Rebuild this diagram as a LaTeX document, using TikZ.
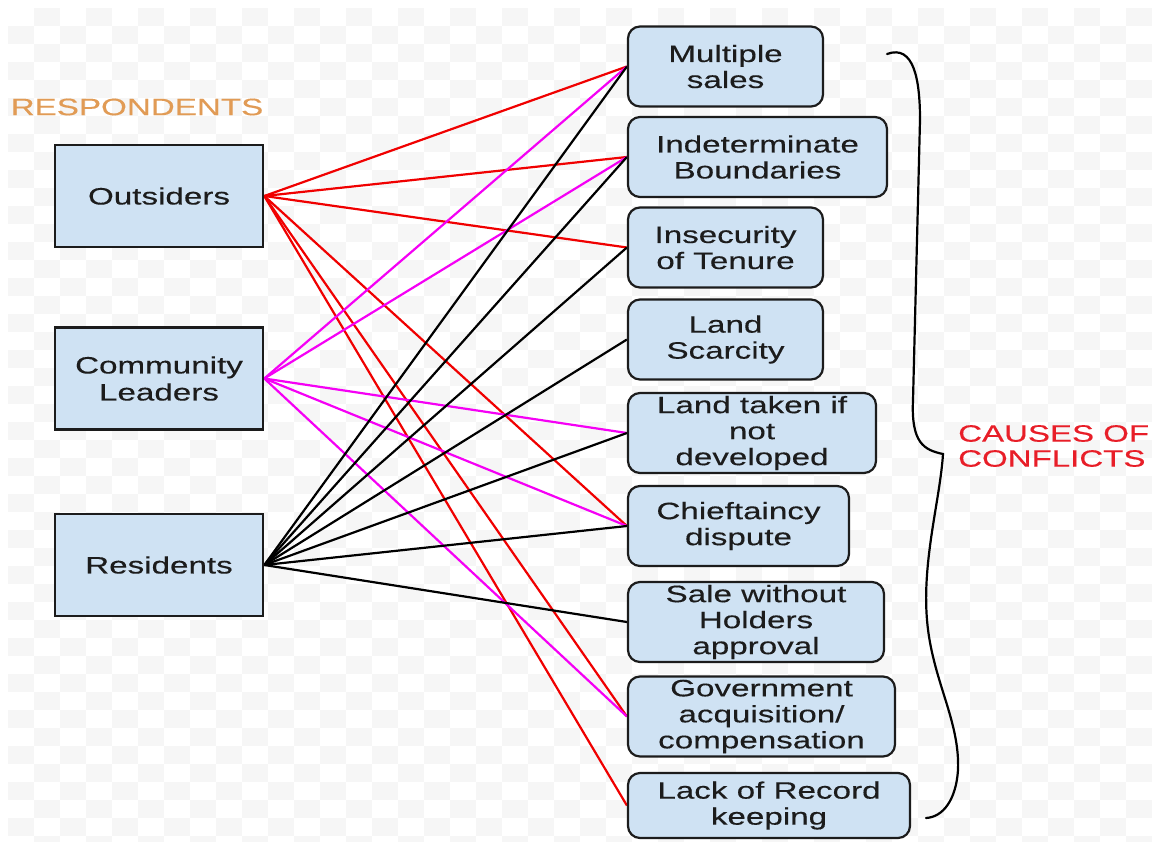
\documentclass[tikz,border=0pt]{standalone}
\usepackage{fontspec}
\setmainfont{Liberation Sans}[FakeStretch=1.4, FakeBold=0.3]
\usetikzlibrary{backgrounds}

\definecolor{boxblue}{RGB}{207,226,243}
\definecolor{inkgray}{RGB}{28,28,28}
\definecolor{respond}{RGB}{225,155,85}
\definecolor{causered}{RGB}{232,30,40}
\definecolor{checker}{RGB}{246,246,246}
\definecolor{linkred}{RGB}{240,0,0}
\definecolor{linkmag}{RGB}{245,0,245}

\tikzset{
  groupbox/.style={draw=inkgray, line width=2.6pt, fill=boxblue,
    minimum width=208pt, minimum height=102pt, inner sep=0pt,
    align=center, text=inkgray, font=\fontsize{23.7}{27}\selectfont},
  causebox/.style={draw=inkgray, line width=2.2pt, fill=boxblue,
    rounded corners=12pt, inner sep=0pt, minimum height=80pt,
    align=center, text=inkgray, font=\fontsize{23.7}{26}\selectfont},
  outlink/.style={linkred, line width=2.2pt},
  leadlink/.style={linkmag, line width=2.2pt},
  reslink/.style={black, line width=2.2pt},
  bracestroke/.style={black, line width=2.2pt, line cap=round},
}

\begin{document}
\begin{tikzpicture}[x=1pt, y=-1pt]
  \useasboundingbox (0,0) rectangle (1156,841);

  % respondent groups
  \node[groupbox] (out) at (159,196) {Outsiders};
  \node[groupbox] (lead) at (159,378.5) {Community\\Leaders};
  \node[groupbox] (res) at (159,565) {Residents};
  \node[text=respond, font=\fontsize{23.7}{27}\selectfont] (resp) at (137,107) {RESPONDENTS};

  % causes of conflict
  \node[causebox, minimum width=195pt] (ms) at (725.5,66.5) {Multiple\\sales};
  \node[causebox, minimum width=259pt] (ib) at (757.5,157) {Indeterminate\\Boundaries};
  \node[causebox, minimum width=195pt] (it) at (725.5,247.5) {Insecurity\\of Tenure};
  \node[causebox, minimum width=195pt] (ls) at (725.5,339.5) {Land\\Scarcity};
  \node[causebox, minimum width=248pt] (lt) at (752,433) {Land taken if\\not\\developed};
  \node[causebox, minimum width=221pt] (cd) at (738.5,526) {Chieftaincy\\dispute};
  \node[causebox, minimum width=256pt] (sw) at (756,622) {Sale without\\Holders\\approval};
  \node[causebox, minimum width=267pt] (ga) at (761.5,716.5) {Government\\acquisition/\\compensation};
  \node[causebox, minimum width=282pt, minimum height=65pt] (lr) at (769,805.5) {Lack of Record\\keeping};

  \node[text=causered, align=left, anchor=west, inner sep=0pt, font=\fontsize{23.6}{25}\selectfont] (causes) at (958,446) {CAUSES OF\\CONFLICTS};

  % curly brace grouping the causes
  \draw[bracestroke] (887,54) .. controls (914,44) and (920,80) .. (920,120)
    -- (913,400)
    .. controls (911,443) and (924,450) .. (943,454)
    .. controls (940,500) and (922,560) .. (927,620)
    .. controls (932,680) and (960,720) .. (958,770)
    .. controls (956,800) and (943,817) .. (926,818);

  \begin{scope}[on background layer]
    % light checkered backdrop
    \fill[white] (0,0) rectangle (1156,841);
    \foreach \i in {0,...,43} {
      \foreach \j in {0,...,46} {
        \pgfmathtruncatemacro\chk{mod(\i+\j,2)}
        \ifnum\chk=1
          \fill[checker] ({8+26*\i},{8+18*\j}) rectangle ({34+26*\i},{26+18*\j});
        \fi
      }
    }
    % links from respondent groups to causes
    \foreach \t in {ms,ib,it,cd,ga,lr} \draw[outlink] (out.east) -- (\t.west);
    \foreach \t in {ms,ib,lt,cd,ga} \draw[leadlink] (lead.east) -- (\t.west);
    \foreach \t in {ms,ib,it,ls,lt,cd,sw} \draw[reslink] (res.east) -- (\t.west);
  \end{scope}
\end{tikzpicture}
\end{document}
